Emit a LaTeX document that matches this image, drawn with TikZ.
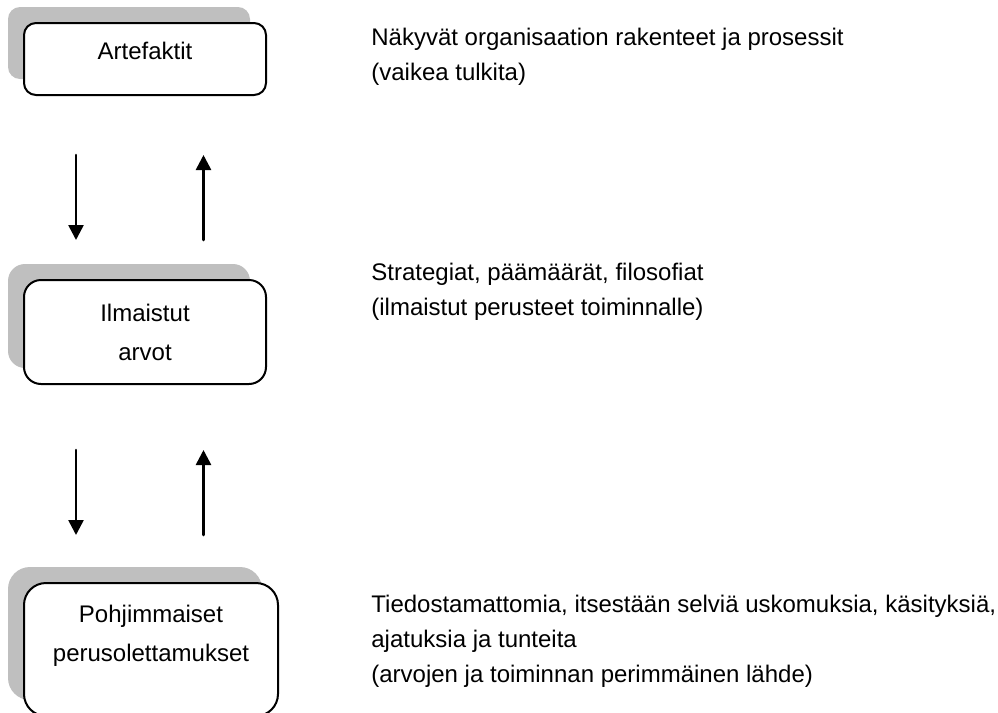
\documentclass[tikz,border=0pt]{standalone}
\usepackage{fontspec}
\setmainfont{Liberation Sans}
\usetikzlibrary{arrows.meta,shadows}
\tikzset
{
	my box/.style={draw,fill=white,line width=1pt,rounded corners=#1,align=center,
		font=\fontsize{12pt}{19.5pt}\selectfont,
		general shadow={fill=black!25,shadow xshift=-8pt,shadow yshift=8pt}},
	my arrow/.style={line width=1.3pt,-{Triangle[width=7.5pt,length=7.5pt]}},
	my text/.style={anchor=base west,align=left,inner sep=0pt,
		font=\fontsize{12pt}{17.5pt}\selectfont}
}

\begin{document}
\begin{tikzpicture}[x=0.5pt,y=-0.5pt,line cap=round,line join=round]
		% page
		\path[use as bounding box,clip] (0,0) rectangle (998,713);
		% boxes
		\node[my box=6pt,minimum width=121pt,minimum height=36pt,text height=9pt,text depth=9pt]
			(artefacts) at (145,59) {Artefaktit};
		\node[my box=8.5pt,minimum width=121pt,minimum height=52pt]
			(values) at (145,332) {Ilmaistut\\arvot};
		\node[my box=11pt,minimum width=127pt,minimum height=66.5pt,text depth=15.75pt]
			(assumptions) at (151,649.5) {Pohjimmaiset\\perusolettamukset};
		% arrows
		\foreach[count=\j]\y in {155,450}
		{
			\coordinate (down\j) at (76,\y);
			\coordinate (down\j') at (76,\y+85);
			\coordinate (up\j) at (203.5,\y);
			\coordinate (up\j') at (203.5,\y+85);
			\draw[my arrow] (down\j) -- (down\j');
			\draw[my arrow] (up\j') -- (up\j);
		}
		% descriptions (anchored at the last line)
		\node[my text] (artefacts text) at (371,80)
			{Näkyvät organisaation rakenteet ja prosessit\\(vaikea tulkita)};
		\node[my text] (values text) at (371,315)
			{Strategiat, päämäärät, filosofiat\\(ilmaistut perusteet toiminnalle)};
		\node[my text] (assumptions text) at (371,682)
			{Tiedostamattomia, itsestään selviä uskomuksia, käsityksiä,\\ajatuksia ja tunteita\\(arvojen ja toiminnan perimmäinen lähde)};
	\end{tikzpicture}
\end{document}
